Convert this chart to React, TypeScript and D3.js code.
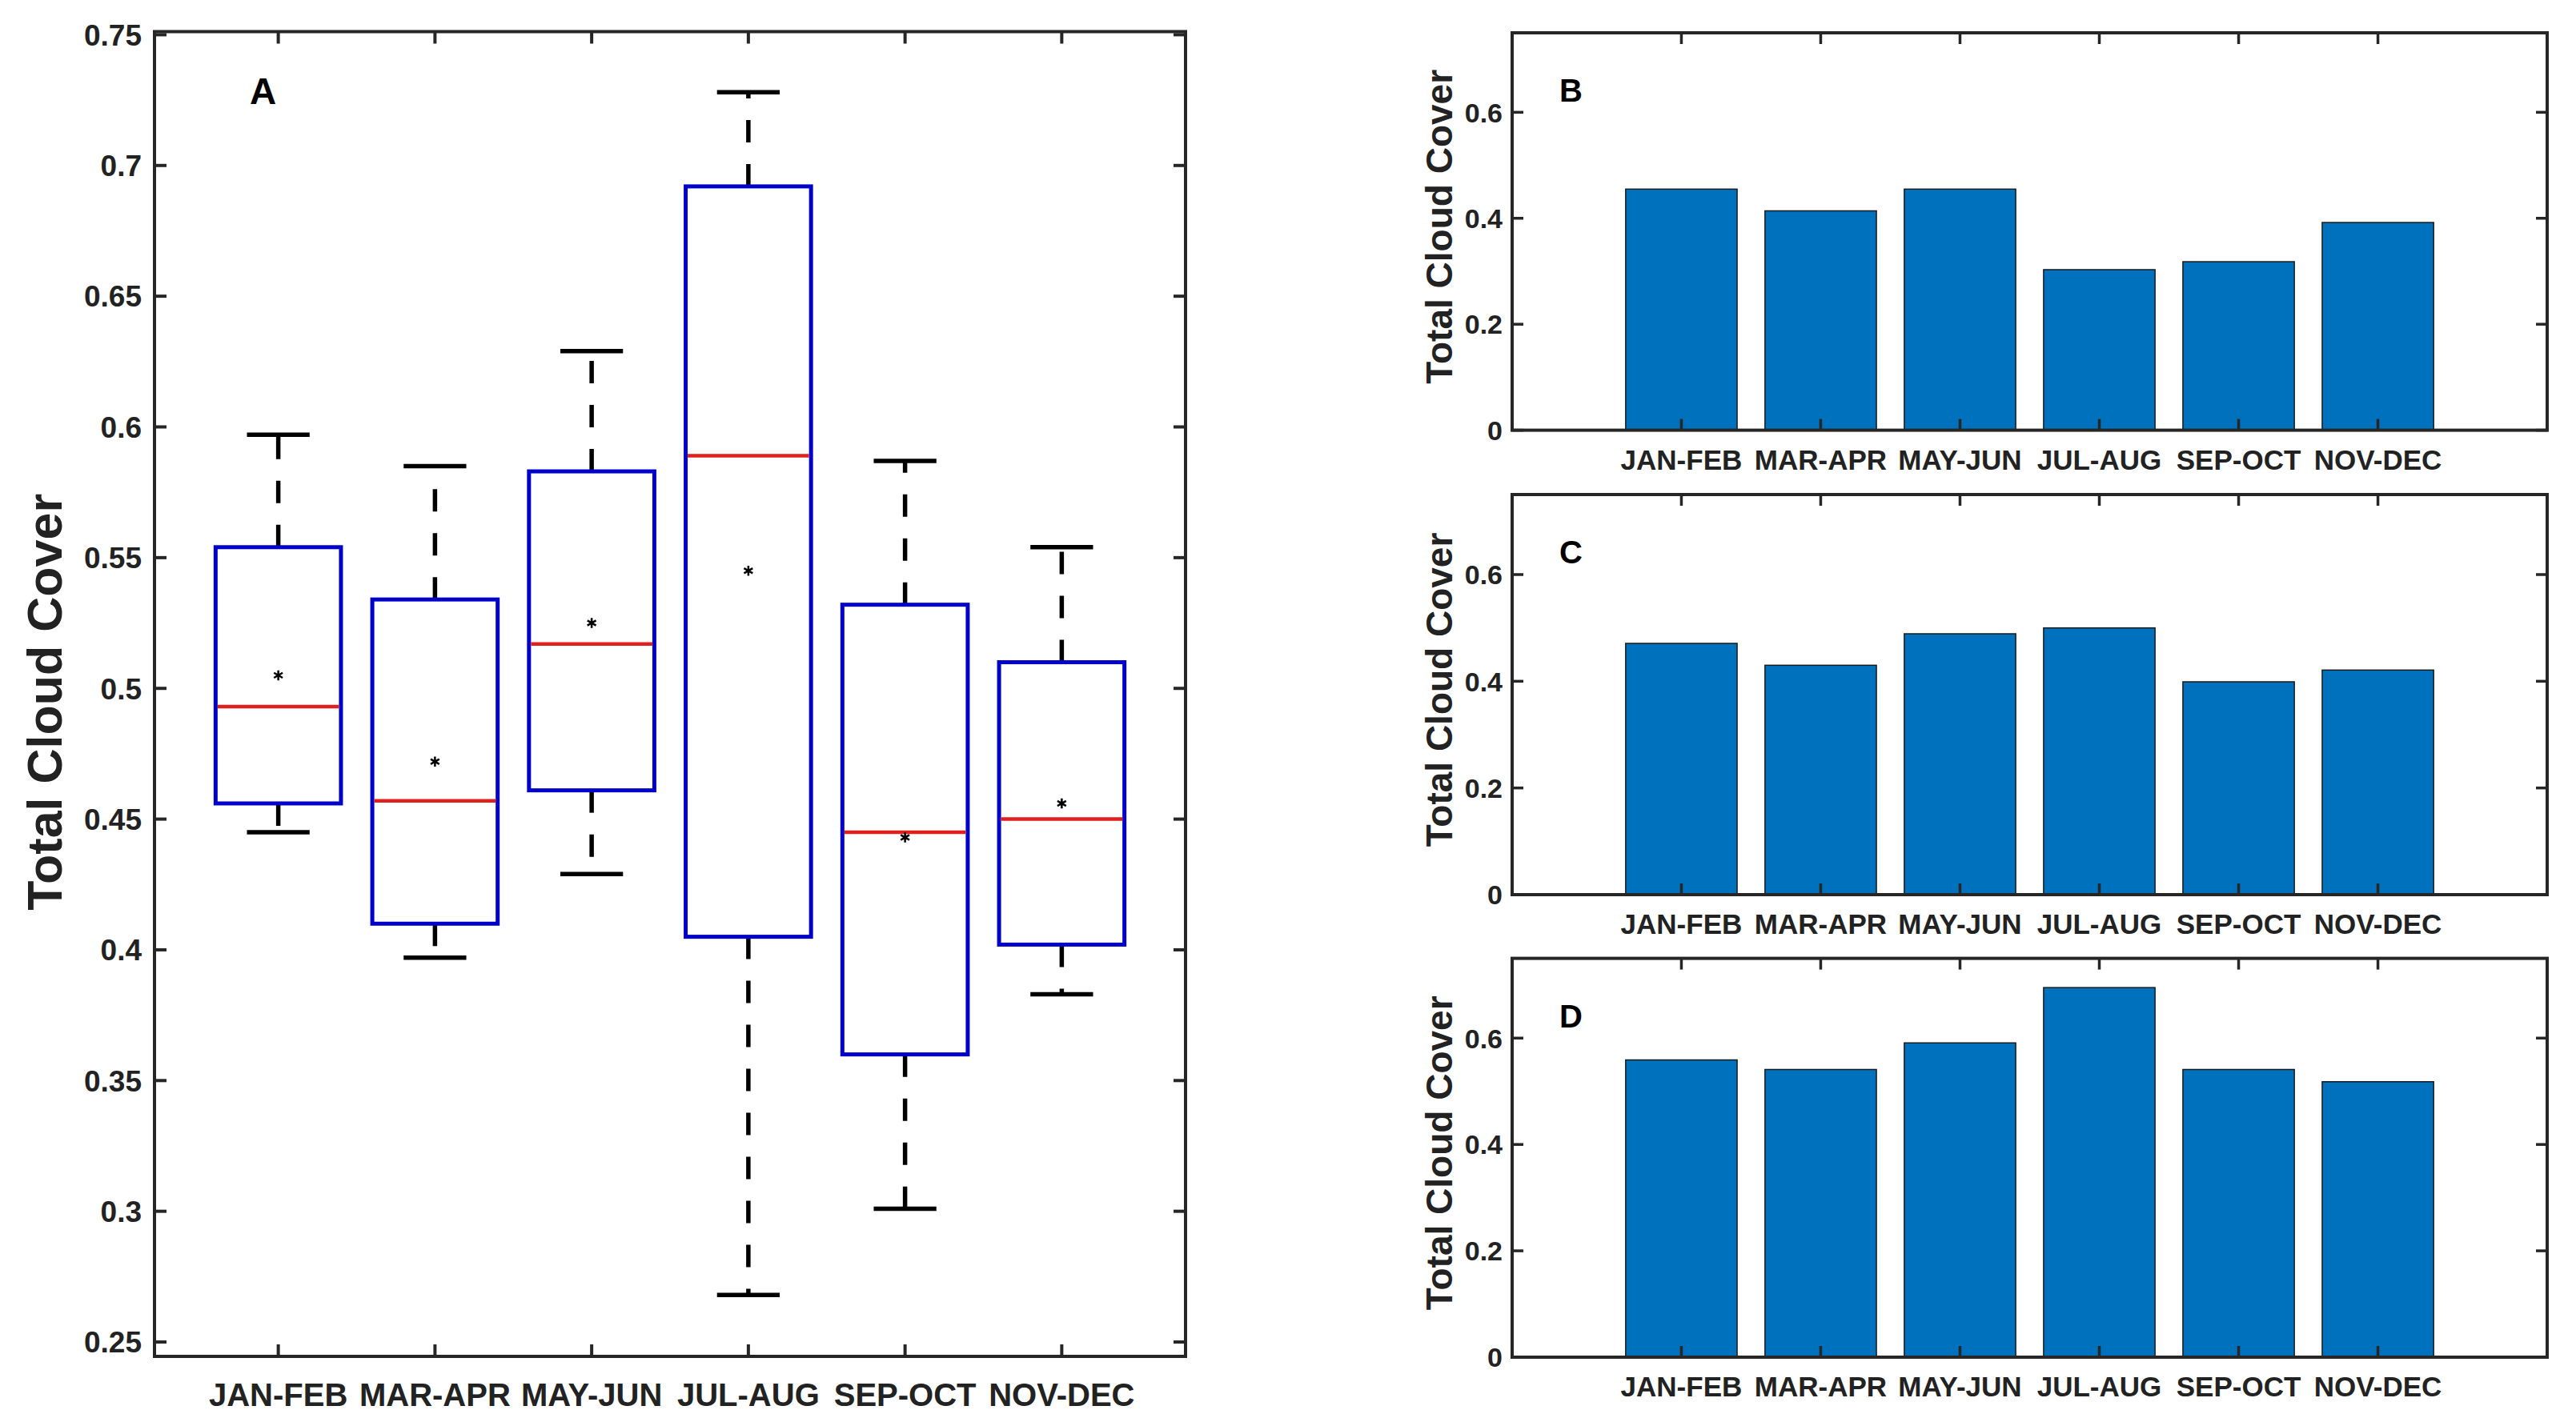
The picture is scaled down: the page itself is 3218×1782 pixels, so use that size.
import React from "react";
import * as d3 from "d3";

const categories = ["JAN-FEB", "MAR-APR", "MAY-JUN", "JUL-AUG", "SEP-OCT", "NOV-DEC"];
const whiskerHigh = [0.597, 0.585, 0.629, 0.728, 0.587, 0.554];
const q3 = [0.554, 0.534, 0.583, 0.692, 0.532, 0.510];
const median = [0.493, 0.457, 0.517, 0.589, 0.445, 0.450];
const q1 = [0.456, 0.410, 0.461, 0.405, 0.360, 0.402];
const whiskerLow = [0.445, 0.397, 0.429, 0.268, 0.301, 0.383];
const means = [0.505, 0.472, 0.525, 0.545, 0.443, 0.456];
const boxTicks = [0.25, 0.3, 0.35, 0.4, 0.45, 0.5, 0.55, 0.6, 0.65, 0.7, 0.75];

const barB = [0.455, 0.414, 0.455, 0.303, 0.318, 0.392];
const barC = [0.471, 0.430, 0.489, 0.500, 0.399, 0.421];
const barD = [0.559, 0.541, 0.591, 0.695, 0.541, 0.518];
const barTicks = [0, 0.2, 0.4, 0.6];
const barPanels = [
  { label: "B", values: barB },
  { label: "C", values: barC },
  { label: "D", values: barD },
];

const FONT = "'Liberation Sans', Arial, Helvetica, sans-serif";
const AXIS = "#262626";
const TITLE = "Total Cloud Cover";

function BoxPanel() {
  const L = 193, R = 1481, T = 39.5, B = 1695;
  const x = d3.scalePoint<string>().domain(categories).range([L, R]).padding(0.79);
  const y = d3.scaleLinear().domain([0.2445, 0.7512]).range([B, T]);
  const step = x.step();
  const bw = step * 0.8;
  const cw = step * 0.4;
  const star = d3.symbol().type(d3.symbolAsterisk).size(110)();
  const tick = 15;
  return (
    <g>
      {categories.map((c, i) => {
        const cx = x(c)!;
        return (
          <g key={c}>
            <line x1={cx} x2={cx} y1={y(q3[i])} y2={y(whiskerHigh[i])} stroke="#000" strokeWidth={5.5} strokeDasharray="28 27" />
            <line x1={cx} x2={cx} y1={y(q1[i])} y2={y(whiskerLow[i])} stroke="#000" strokeWidth={5.5} strokeDasharray="28 27" />
            <line x1={cx - cw / 2} x2={cx + cw / 2} y1={y(whiskerHigh[i])} y2={y(whiskerHigh[i])} stroke="#000" strokeWidth={5.5} />
            <line x1={cx - cw / 2} x2={cx + cw / 2} y1={y(whiskerLow[i])} y2={y(whiskerLow[i])} stroke="#000" strokeWidth={5.5} />
            <rect x={cx - bw / 2} y={y(q3[i])} width={bw} height={y(q1[i]) - y(q3[i])} fill="none" stroke="#0000c8" strokeWidth={5} />
            <line x1={cx - bw / 2 + 2.5} x2={cx + bw / 2 - 2.5} y1={y(median[i])} y2={y(median[i])} stroke="#e0201e" strokeWidth={4.5} />
            <path d={star!} transform={`translate(${cx},${y(means[i])})`} stroke="#000" strokeWidth={2.5} fill="none" />
          </g>
        );
      })}
      <rect x={L} y={T} width={R - L} height={B - T} fill="none" stroke={AXIS} strokeWidth={4} />
      {boxTicks.map((t) => (
        <g key={t}>
          <line x1={L} x2={L + tick} y1={y(t)} y2={y(t)} stroke={AXIS} strokeWidth={4} />
          <line x1={R} x2={R - tick} y1={y(t)} y2={y(t)} stroke={AXIS} strokeWidth={4} />
          <text x={L - 16} y={y(t)} dy="0.36em" textAnchor="end" fontFamily={FONT} fontWeight="bold" fontSize={37} fill="#222">
            {String(t)}
          </text>
        </g>
      ))}
      {categories.map((c) => (
        <g key={c}>
          <line x1={x(c)} x2={x(c)} y1={T} y2={T + tick} stroke={AXIS} strokeWidth={4} />
          <line x1={x(c)} x2={x(c)} y1={B} y2={B - tick} stroke={AXIS} strokeWidth={4} />
          <text x={x(c)} y={1757} textAnchor="middle" fontFamily={FONT} fontWeight="bold" fontSize={40} fill="#222">
            {c}
          </text>
        </g>
      ))}
      <text x={312} y={130} fontFamily={FONT} fontWeight="bold" fontSize={46} fill="#000">A</text>
      <text transform={`translate(77,${(T + B) / 2 + 10}) rotate(-90)`} textAnchor="middle" fontFamily={FONT} fontWeight="bold" fontSize={61} fill="#222">
        {TITLE}
      </text>
    </g>
  );
}

function BarPanel({ top, bottom, label, values }: { top: number; bottom: number; label: string; values: number[] }) {
  const L = 1889, R = 3182;
  const x = d3.scalePoint<string>().domain(categories).range([L, R]).padding(1.215);
  const y = d3.scaleLinear().domain([0, 0.75]).range([bottom, top]);
  const bw = x.step() * 0.8;
  const tick = 14;
  return (
    <g>
      {categories.map((c, i) => (
        <rect key={c} x={x(c)! - bw / 2} y={y(values[i])} width={bw} height={y(0) - y(values[i])} fill="#0072bd" stroke="#1a1a1a" strokeWidth={1.5} />
      ))}
      <rect x={L} y={top} width={R - L} height={bottom - top} fill="none" stroke={AXIS} strokeWidth={4} />
      {barTicks.map((t) => (
        <g key={t}>
          <line x1={L} x2={L + tick} y1={y(t)} y2={y(t)} stroke={AXIS} strokeWidth={3.5} />
          <line x1={R} x2={R - tick} y1={y(t)} y2={y(t)} stroke={AXIS} strokeWidth={3.5} />
          <text x={L - 12} y={y(t)} dy="0.36em" textAnchor="end" fontFamily={FONT} fontWeight="bold" fontSize={34} fill="#222">
            {String(t)}
          </text>
        </g>
      ))}
      {categories.map((c) => (
        <g key={c}>
          <line x1={x(c)} x2={x(c)} y1={top} y2={top + tick} stroke={AXIS} strokeWidth={3.5} />
          <line x1={x(c)} x2={x(c)} y1={bottom} y2={bottom - tick} stroke={AXIS} strokeWidth={3.5} />
          <text x={x(c)} y={bottom + 49} textAnchor="middle" fontFamily={FONT} fontWeight="bold" fontSize={35} fill="#222">
            {c}
          </text>
        </g>
      ))}
      <text x={1948} y={top + 86} fontFamily={FONT} fontWeight="bold" fontSize={40} fill="#000">{label}</text>
      <text transform={`translate(1814,${(top + bottom) / 2 - 6}) rotate(-90)`} textAnchor="middle" fontFamily={FONT} fontWeight="bold" fontSize={46} fill="#222">
        {TITLE}
      </text>
    </g>
  );
}

export default function App() {
  const tops = [41, 618, 1197.6];
  const bottoms = [537.6, 1118, 1696];
  return (
    <svg width={3218} height={1782} style={{ position: "absolute", left: 0, top: 0, background: "#fff" }}>
      <rect width={3218} height={1782} fill="#fff" />
      <BoxPanel />
      {barPanels.map((p, i) => (
        <BarPanel key={p.label} top={tops[i]} bottom={bottoms[i]} label={p.label} values={p.values} />
      ))}
    </svg>
  );
}
